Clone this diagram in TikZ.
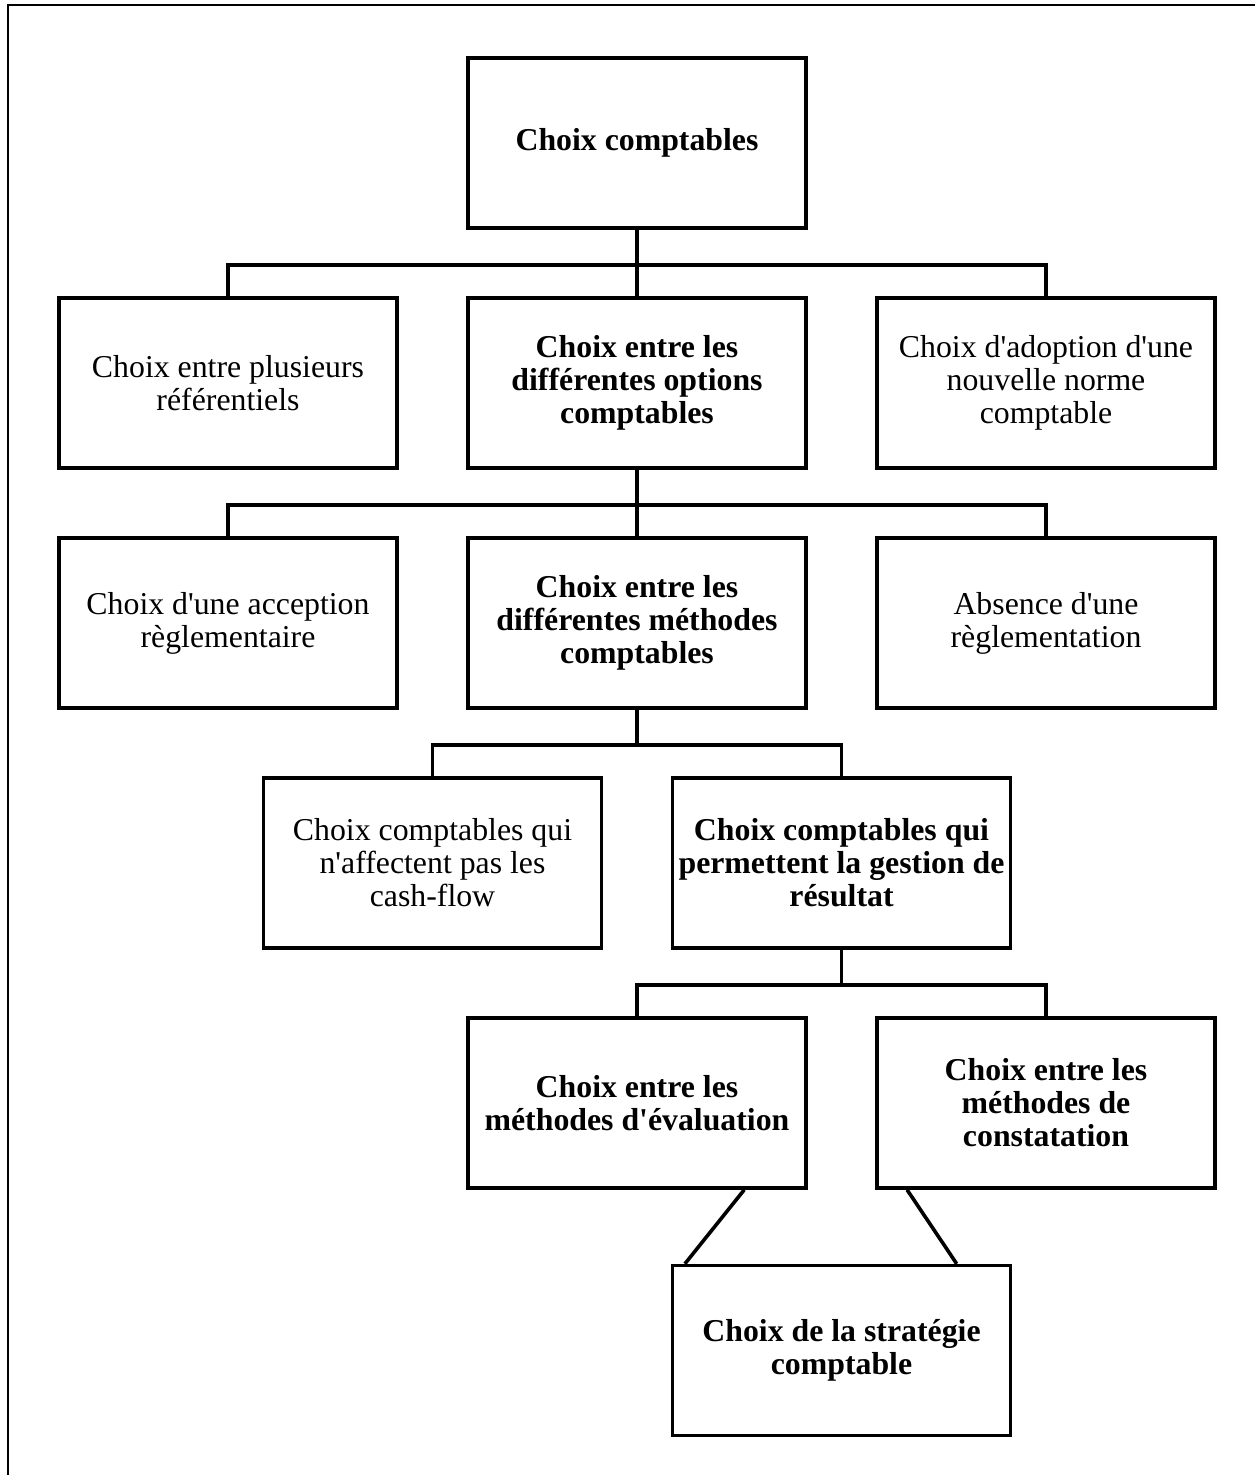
\documentclass[tikz,border=0pt]{standalone}
\usepackage{fontspec}
\usepackage{tikz}
\usetikzlibrary{positioning,calc}
\newfontfamily\boxfont{Liberation Serif}

\begin{document}
\begin{tikzpicture}[box/.style={draw, line width=1.8pt, minimum width=169pt, minimum height=85pt, inner sep=0pt, align=center, font=\boxfont\fontsize{15.9}{16.5}\selectfont},
	bbox/.style={box, font=\boxfont\bfseries\fontsize{15.9}{16.5}\selectfont},
	level distance=120pt, sibling distance=204.5pt,
	edge from parent/.style={draw, line width=1.8pt},
	edge from parent path={(\tikzparentnode.south) -- ++(0,-17.5pt) -| (\tikzchildnode.north)}]
	
	\useasboundingbox (0,0) rectangle (627pt,-737.5pt);
	% cadre
	\draw[line width=1pt] (640pt,-2.5pt) -| (4pt,-750pt);
	
	\node [bbox] (root) at (318.5pt,-71.5pt) {Choix comptables}
	child {node [box] (ref) {Choix entre plusieurs\\référentiels}}
	child {node [bbox] (opt) {Choix entre les\\différentes options\\comptables}
		child {node [box] (accep) {Choix d'une acception\\règlementaire}}
		child {node [bbox] (meth) {Choix entre les\\différentes méthodes\\comptables}
			child {node [box] (cash) {Choix comptables qui\\n'affectent pas les\\cash-flow}}
			child {node [bbox] (gest) {Choix comptables qui\\permettent la gestion de\\résultat}
				child {node [bbox] (eval) {Choix entre les\\méthodes d'évaluation}}
				child {node [bbox] (const) {Choix entre les\\méthodes de\\constatation}}
			}
		}
		child {node [box] (absr) {Absence d'une\\règlementation}}
	}
	child {node [box] (norme) {Choix d'adoption d'une\\nouvelle norme\\comptable}
	};
	
	\node [bbox, below=37pt] (strat) at ($(eval.south)!0.5!(const.south)$) {Choix de la stratégie\\comptable};
	\draw [line width=1.8pt] (eval.-39) -- (strat.151);
	\draw [line width=1.8pt] (const.-148) -- (strat.37);
\end{tikzpicture}
\end{document}
